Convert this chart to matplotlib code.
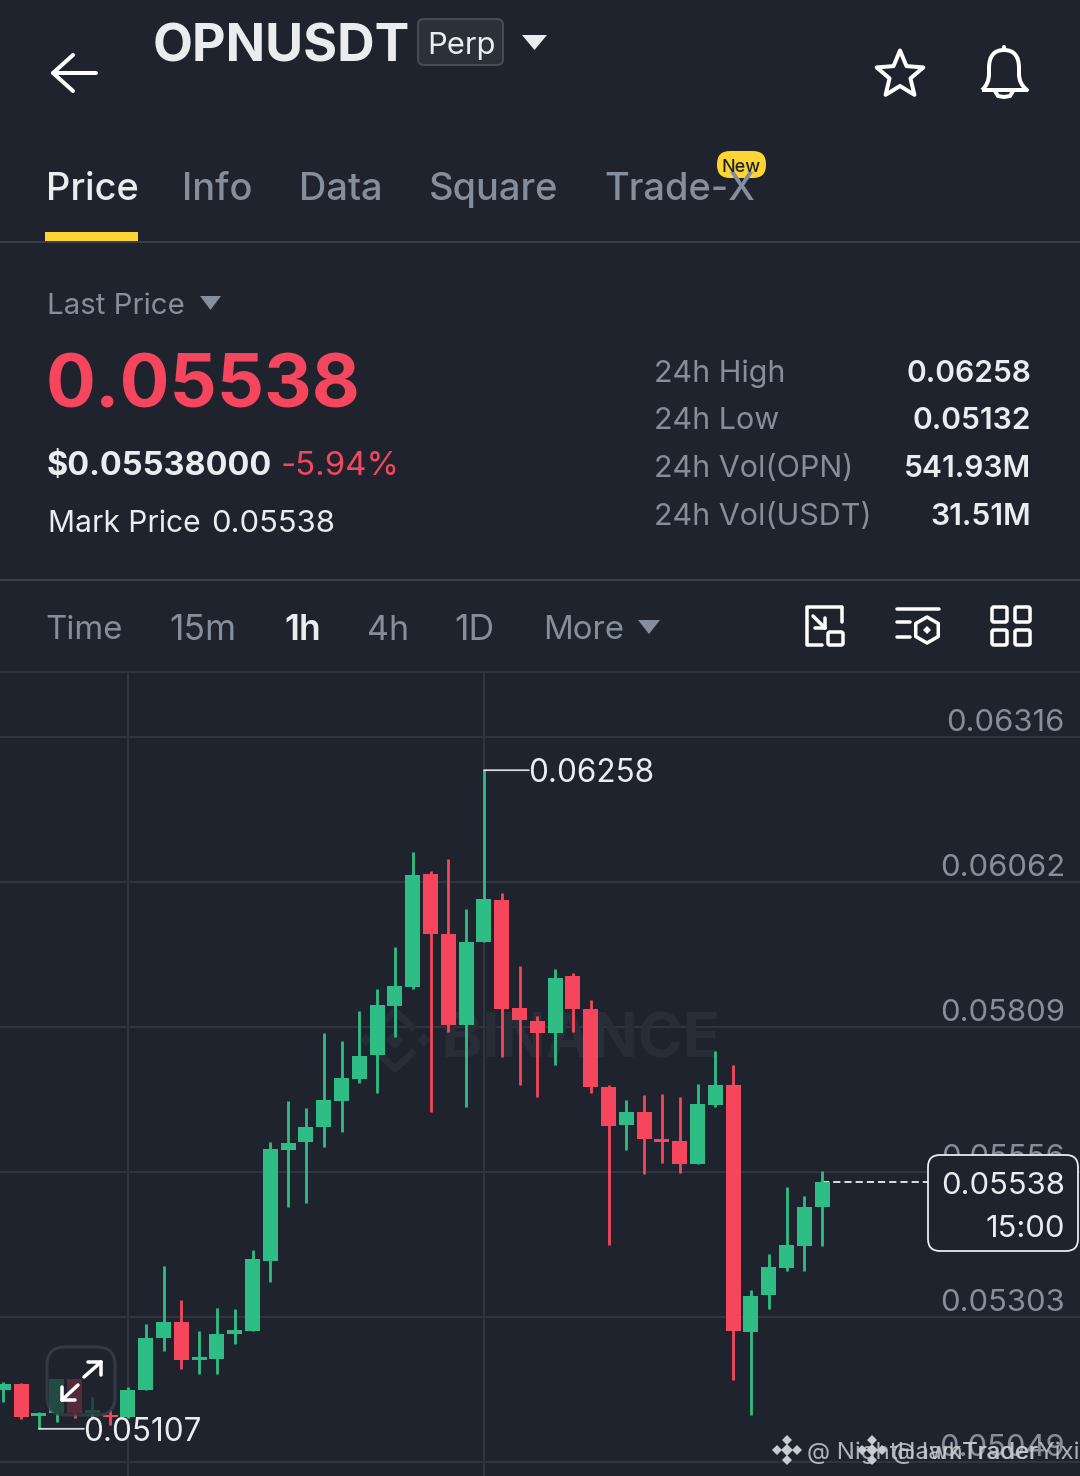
import numpy as np
import matplotlib
matplotlib.use("Agg")
import matplotlib.pyplot as plt
from matplotlib.patches import FancyBboxPatch, Polygon, PathPatch
from matplotlib.path import Path

# candles, oldest first
opens = [.05174, .05185, .05130, .05135, .05194, .05135, .05131, .05128, .05175, .05265,
         .05294, .05228, .05229, .05273, .05278, .05401, .05594, .05608, .05635, .05680,
         .05719, .05760, .05846, .05879, .06076, .05971, .05813, .05958, .06031, .05842,
         .05819, .05799, .05899, .05841, .05704, .05638, .05661, .05613, .05610, .05570,
         .05673, .05707, .05276, .05340, .05388, .05427, .05494]
highs = [.05188, .05187, .05136, .05194, .05194, .05163, .05140, .05180, .05290, .05392,
         .05332, .05278, .05318, .05316, .05420, .05608, .05680, .05668, .05799, .05785,
         .05837, .05876, .05949, .06115, .06081, .06103, .06015, .06258, .06043, .05915,
         .05828, .05911, .05904, .05856, .05707, .05682, .05690, .05692, .05687, .05710,
         .05768, .05743, .05350, .05412, .05530, .05513, .05558]
lows = [.05153, .05124, .05107, .05119, .05126, .05126, .05114, .05126, .05175, .05243,
        .05212, .05203, .05203, .05256, .05278, .05364, .05495, .05502, .05600, .05626,
        .05712, .05694, .05792, .05876, .05661, .05801, .05669, .05958, .05756, .05708,
        .05687, .05743, .05801, .05694, .05428, .05594, .05552, .05572, .05554, .05570,
        .05670, .05192, .05132, .05317, .05382, .05383, .05427]
closes = [.05185, .05128, .05135, .05194, .05135, .05140, .05128, .05174, .05265, .05294,
          .05227, .05233, .05273, .05279, .05403, .05596, .05607, .05634, .05682, .05720,
          .05759, .05847, .05880, .06074, .05971, .05813, .05957, .06033, .05841, .05821,
          .05799, .05895, .05840, .05705, .05637, .05661, .05614, .05608, .05570, .05674,
          .05708, .05278, .05339, .05389, .05428, .05495, .05538]

price_ticks = [0.06316, 0.06062, 0.05809, 0.05556, 0.05303, 0.05049]
time_ticks = [7, 27]
tabs = ["Price", "Info", "Data", "Square", "Trade-X"]
tab_x = [46, 182, 299, 429, 604]
intervals = ["Time", "15m", "1h", "4h", "1D", "More"]
interval_x = [45, 169, 284, 367, 454, 543]
interval_px = [33, 35.5, 35.5, 34, 35.5, 33]
stat_names = ["24h High", "24h Low", "24h Vol(OPN)", "24h Vol(USDT)"]
stat_values = ["0.06258", "0.05132", "541.93M", "31.51M"]
stat_y = [371, 418, 466, 514]

BG = "#1E232D"
GRID = "#2F343E"
GREEN = "#2EBD85"
RED = "#F6465D"
GREY = "#848E9C"
WHITE = "#EAECEF"
YELLOW = "#FCD535"
FONT = "Inter"
PX = 0.72  # points per pixel at dpi 100

fig = plt.figure(figsize=(10.8, 14.76), dpi=100, facecolor=BG)

# chart area, y 672 to 1476 in picture pixels
ax = fig.add_axes([0, 0, 1, 804 / 1476], facecolor=BG, zorder=1)
# page layer in picture pixels, on top of the chart
ui = fig.add_axes([0, 0, 1, 1], zorder=2)
ui.set_xlim(0, 1080)
ui.set_ylim(1476, 0)
ui.axis("off")
ui.patch.set_alpha(0)


def label(x, y, s, px, color=WHITE, weight="normal", ha="left", a=ui, **kw):
    return a.text(x, y, s, fontsize=px * PX, color=color, fontweight=weight, ha=ha,
                  va="center_baseline", family=FONT, **kw)


def stroke(xs, ys, px=4, color="white", **kw):
    ui.plot(xs, ys, color=color, lw=px * PX, solid_capstyle="round", solid_joinstyle="round", **kw)


def rbox(x0, y0, x1, y1, r, face, edge, px=2, alpha=None):
    p = FancyBboxPatch((x0, y0), x1 - x0, y1 - y0, boxstyle="round,pad=0,rounding_size=%g" % r,
                       facecolor=face, edgecolor=edge, lw=px * PX, alpha=alpha)
    ui.add_patch(p)


def tri(x0, x1, y0, y1, color):
    ui.add_patch(Polygon([(x0, y0), (x1, y0), ((x0 + x1) / 2, y1)], closed=True, color=color, lw=0))


# ---- header ----
stroke([53, 96], [73, 73])
stroke([73, 53, 73], [55, 73, 91])
label(153, 43, "OPNUSDT", 52, weight="bold")
rbox(418, 19, 503, 65, 6, "#2B3139", "#474D57")
label(461, 43, "Perp", 31, ha="center")
tri(522, 547, 35, 50, WHITE)

a = np.linspace(-np.pi / 2, 1.5 * np.pi, 11)
r = np.where(np.arange(11) % 2 == 0, 24.5, 11)
ui.add_patch(Polygon(np.c_[900 + r * np.cos(a), 75 + r * np.sin(a)], closed=True, fill=False,
                     edgecolor="white", lw=4 * PX, joinstyle="round"))
bell = Path([(982, 90), (989, 84), (989, 74), (989, 68), (989, 50), (1004, 50), (1019, 50), (1019, 68),
             (1019, 74), (1019, 84), (1027, 90), (982, 90)],
            [Path.MOVETO, Path.CURVE3, Path.CURVE3, Path.LINETO, Path.CURVE3, Path.CURVE3, Path.CURVE3, Path.CURVE3,
             Path.LINETO, Path.CURVE3, Path.CURVE3, Path.LINETO])
ui.add_patch(PathPatch(bell, fill=False, edgecolor="white", lw=4 * PX, joinstyle="round"))
stroke([1004, 1004], [47, 50])
stroke([995, 998, 1004, 1010, 1013], [91, 96, 97, 96, 91])

# ---- tabs ----
for i in range(len(tabs)):
    label(tab_x[i], 186, tabs[i], 38, color=WHITE if i == 0 else GREY, weight="medium")
ui.add_patch(plt.Rectangle((45, 232), 93, 9, color=YELLOW, lw=0))
rbox(717, 151, 766, 178, 13, YELLOW, YELLOW, px=0)
label(741.5, 165, "New", 18, color="#1E2329", weight="medium", ha="center")
for yy in [242, 580]:
    ui.plot([0, 1080], [yy, yy], color="#3A3F4A", lw=2 * PX)

# ---- price block ----
label(47, 303, "Last Price", 29.5, color=GREY)
tri(200, 221, 296, 310, GREY)
label(46, 381, "0.05538", 74, color=RED, weight="bold")
label(47, 463, "$0.05538000", 32.5, weight="bold")
label(281, 463, "-5.94%", 33, color=RED)
label(48, 521, "Mark Price", 30)
label(211, 521, "0.05538", 31)
for i in range(len(stat_names)):
    label(654, stat_y[i], stat_names[i], 30.5, color=GREY)
    label(1031, stat_y[i], stat_values[i], 30, weight="semibold", ha="right")

# ---- interval row ----
for i in range(len(intervals)):
    label(interval_x[i], 627, intervals[i], interval_px[i], color=WHITE if intervals[i] == "1h" else GREY,
          weight="semibold" if intervals[i] == "1h" else "normal")
tri(638, 660, 620, 634, GREY)

stroke([842, 842, 807, 807, 822], [622, 607, 607, 645, 645], px=3.5)
rbox(828, 632, 843, 645, 2, "none", "white", px=3.5)
stroke([813, 825], [616, 628], px=3.5)
stroke([825, 815], [628, 628], px=3.5)
stroke([825, 825], [628, 618], px=3.5)

stroke([897, 939], [609, 609], px=3.5)
stroke([897, 910], [622, 622], px=3.5)
stroke([897, 910], [637, 637], px=3.5)
a = np.linspace(-np.pi / 2, 1.5 * np.pi, 7)
ui.add_patch(Polygon(np.c_[927 + 13 * np.cos(a), 630 + 13 * np.sin(a)], closed=True, fill=False,
                     edgecolor="white", lw=3.5 * PX, joinstyle="round"))
ui.plot([927], [630], marker="D", ms=6 * PX, color="white", mew=0)

for x0, x1 in [(992, 1007), (1015, 1030)]:
    for y0, y1 in [(607, 622), (630, 645)]:
        rbox(x0, y0, x1, y1, 2, "none", "white", px=3.5)

# ---- chart ----
ax.set_xlim(-3.3 / 17.8, (1080 - 3.3) / 17.8)
ax.set_ylim(0.05049 - 14 * 1.7476e-5, 0.05049 + 790 * 1.7476e-5)
ax.set_yticks(price_ticks)
ax.set_xticks(time_ticks)
ax.tick_params(length=0, labelleft=False, labelbottom=False)
ax.grid(True, color=GRID, lw=2 * PX)
ax.set_axisbelow(True)
for s in ax.spines.values():
    s.set_visible(False)
ui.plot([0, 1080], [672, 672], color=GRID, lw=2 * PX)

# watermark behind the candles
WM = "#282D38"
ax.text(581, 1041, "BINANCE", transform=ui.transData, fontsize=61 * PX, fontweight="bold", family=FONT,
        color=WM, ha="center", va="center", zorder=0.6)
for cx, cy, ms in [(395, 1040, 13), (366, 1040, 9), (424, 1040, 9)]:
    ax.plot([cx], [cy], marker="D", ms=ms * PX, color=WM, mew=0, transform=ui.transData, zorder=0.6)
for sign in [-1, 1]:
    ax.plot([378, 395, 412], [1040 + sign * 13, 1040 + sign * 29, 1040 + sign * 13], color=WM, lw=7 * PX,
            transform=ui.transData, zorder=0.6)

for i in range(len(opens)):
    col = GREEN if closes[i] >= opens[i] else RED
    ax.vlines(i, lows[i], highs[i], color=col, lw=2.8 * PX, zorder=3)
    ax.bar(i, abs(closes[i] - opens[i]), bottom=min(opens[i], closes[i]), width=15 / 17.8, color=col, zorder=3)

for i in range(len(price_ticks)):
    ax.annotate("%.5f" % price_ticks[i], xy=(1065 / 1080, price_ticks[i]), xycoords=ax.get_yaxis_transform(),
                xytext=(0, 17 * PX), textcoords="offset points", fontsize=31 * PX, color=GREY, family=FONT,
                ha="right", va="center_baseline", zorder=2)

last = len(closes) - 1
ax.plot([last, 51.95], [closes[last], closes[last]], color="#D5D8DC", lw=2 * PX, ls=(0, (3.6, 2)), zorder=2)

# high and low markers
for xi, price in [(highs.index(max(highs)), max(highs)), (lows.index(min(lows)), min(lows))]:
    ax.annotate("", xy=(xi, price), xytext=(45 * PX, 0), textcoords="offset points", zorder=5,
                arrowprops=dict(arrowstyle="-", color="#D5D8DC", lw=1.8 * PX, shrinkA=0, shrinkB=0))
    ax.annotate("%.5f" % price, xy=(xi, price), xytext=(44 * PX, 0), textcoords="offset points", fontsize=31.5 * PX,
                color=WHITE, family=FONT, va="center_baseline", zorder=5)

# ---- overlays ----
rbox(928, 1155, 1078, 1251, 12, BG, WHITE, px=1.8)
label(1065, 1183, "0.05538", 31, ha="right")
label(1065, 1226, "15:00", 31, ha="right")

rbox(47, 1347, 115, 1415, 18, BG, "#3C414C", px=3, alpha=0.75)
stroke([62, 78], [1400, 1385], px=3.5)
stroke([62, 62], [1400, 1387], px=3.5)
stroke([62, 75], [1400, 1400], px=3.5)
stroke([84, 101], [1377, 1362], px=3.5)
stroke([101, 88], [1362, 1362], px=3.5)
stroke([101, 101], [1362, 1375], px=3.5)

# two overlapping share marks at the bottom
for lx, name in [(787, "@ NightHawkTrader"), (872, "@ IamTraderYixi")]:
    for dx, dy, ms in [(0, 0, 8), (-10, 0, 6.5), (10, 0, 6.5), (0, -10, 6.5), (0, 10, 6.5)]:
        ui.plot([lx + dx], [1450 + dy], marker="D", ms=ms * PX, color="#C9CCD1", mew=0)
    label(lx + 20, 1450, name, 24, color="#C9CCD1", alpha=0.85)

fig.savefig("out.png", dpi=100, facecolor=BG)
